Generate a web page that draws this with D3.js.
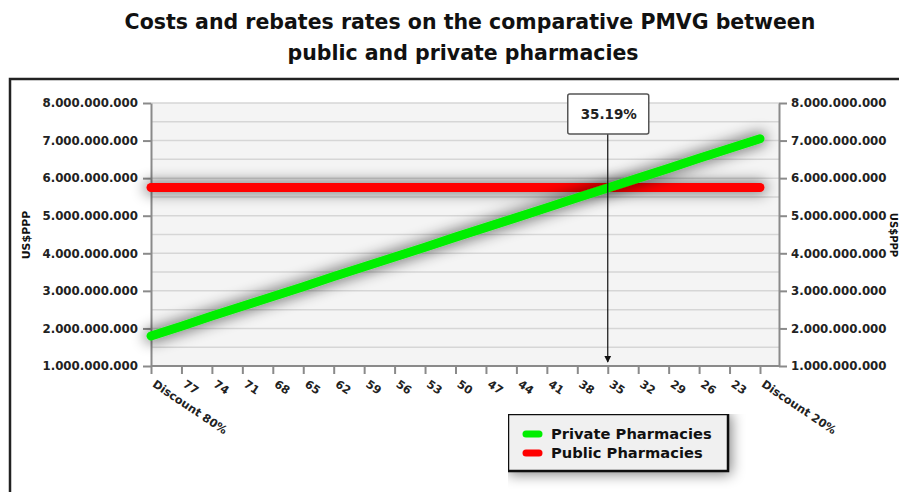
<!DOCTYPE html>
<meta charset="utf-8">
<style>
    body { margin: 0; background: #fff; }
    svg { display: block; font-family: "DejaVu Sans", sans-serif; }
    .grid line { stroke: #d6d6d6; stroke-width: 1.5px; }
    .axis path, .axis line { stroke: #8a8a8a; stroke-width: 2px; }
    .axis text { font-weight: bold; fill: #222; }
</style>
<svg width="899" height="492"></svg>
<script src="https://d3js.org/d3.v7.min.js"></script>
<script>
    // discount rates on the x axis (percent)
    var discounts = [80, 77, 74, 71, 68, 65, 62, 59, 56, 53, 50, 47, 44, 41, 38, 35, 32, 29, 26, 23, 20];
    var xLabels = ["Discount 80%", "77", "74", "71", "68", "65", "62", "59", "56", "53", "50",
        "47", "44", "41", "38", "35", "32", "29", "26", "23", "Discount 20%"];

    // US$PPP
    var privateCost = [1.80e9, 2.06e9, 2.33e9, 2.59e9, 2.85e9, 3.11e9, 3.38e9, 3.64e9, 3.90e9, 4.16e9, 4.43e9,
        4.69e9, 4.95e9, 5.21e9, 5.48e9, 5.74e9, 6.00e9, 6.26e9, 6.53e9, 6.79e9, 7.05e9];
    var publicCost = [5.75e9, 5.75e9, 5.75e9, 5.75e9, 5.75e9, 5.75e9, 5.75e9, 5.75e9, 5.75e9, 5.75e9, 5.75e9,
        5.75e9, 5.75e9, 5.75e9, 5.75e9, 5.75e9, 5.75e9, 5.75e9, 5.75e9, 5.75e9, 5.75e9];

    var yTicks = [1e9, 2e9, 3e9, 4e9, 5e9, 6e9, 7e9, 8e9];
    var gridValues = [1.5e9, 2e9, 2.5e9, 3e9, 3.5e9, 4e9, 4.5e9, 5e9, 5.5e9, 6e9, 6.5e9, 7e9, 7.5e9, 8e9];

    var breakEven = { discount: 35, label: "35.19%" };

    var series = [
        { name: "Private Pharmacies", values: privateCost, color: "#00ee00" },
        { name: "Public Pharmacies", values: publicCost, color: "#ff0000" }
    ];

    var svg = d3.select("svg");

    var plotLeft = 151, plotRight = 779, plotTop = 103, plotBottom = 366;

    var x = d3.scalePoint()
        .domain(discounts)
        .range([plotLeft, 760]);

    var y = d3.scaleLinear()
        .domain([1e9, 8e9])
        .range([plotBottom, plotTop]);

    var locale = d3.formatLocale({ decimal: ",", thousands: ".", grouping: [3], currency: ["$", ""] });
    var fmt = locale.format(",d");

    var defs = svg.append("defs");
    var shadow = defs.append("filter")
        .attr("id", "shadow")
        .attr("filterUnits", "userSpaceOnUse")
        .attr("x", 0).attr("y", 0)
        .attr("width", 899).attr("height", 492);
    shadow.append("feMorphology")
        .attr("in", "SourceAlpha").attr("operator", "dilate").attr("radius", 2).attr("result", "fat");
    shadow.append("feGaussianBlur")
        .attr("in", "fat").attr("stdDeviation", 7).attr("result", "blur");
    shadow.append("feComponentTransfer")
        .attr("in", "blur").attr("result", "soft")
        .append("feFuncA").attr("type", "linear").attr("slope", 0.5);
    var merge = shadow.append("feMerge");
    merge.append("feMergeNode").attr("in", "soft");
    merge.append("feMergeNode").attr("in", "SourceGraphic");

    var arrow = defs.append("marker")
        .attr("id", "arrow")
        .attr("viewBox", "0 0 10 10")
        .attr("refX", 9).attr("refY", 5)
        .attr("markerWidth", 7).attr("markerHeight", 8)
        .attr("markerUnits", "userSpaceOnUse")
        .attr("orient", "auto");
    arrow.append("path").attr("d", "M0,0L10,5L0,10z").attr("fill", "#111");

    // title
    svg.append("text")
        .attr("x", 470).attr("y", 29)
        .attr("text-anchor", "middle")
        .style("font-size", "20.5px").style("font-weight", "bold").style("fill", "#111")
        .text("Costs and rebates rates on the comparative PMVG between");
    svg.append("text")
        .attr("x", 463).attr("y", 60)
        .attr("text-anchor", "middle")
        .style("font-size", "20.5px").style("font-weight", "bold").style("fill", "#111")
        .text("public and private pharmacies");

    // outer frame
    svg.append("rect")
        .attr("x", 10).attr("y", 79)
        .attr("width", 950).attr("height", 500)
        .attr("fill", "#fff")
        .attr("stroke", "#222").attr("stroke-width", 2.5);

    // plot background and grid
    svg.append("rect")
        .attr("x", plotLeft).attr("y", plotTop)
        .attr("width", plotRight - plotLeft).attr("height", plotBottom - plotTop)
        .attr("fill", "#f4f4f4");

    svg.append("g")
        .attr("class", "grid")
        .selectAll("line")
        .data(gridValues)
        .enter().append("line")
        .attr("x1", plotLeft).attr("x2", plotRight)
        .attr("y1", d => y(d)).attr("y2", d => y(d));

    // axes
    svg.append("g")
        .attr("class", "axis")
        .attr("transform", "translate(" + plotLeft + ",0)")
        .call(d3.axisLeft(y).tickValues(yTicks).tickFormat(fmt).tickSizeInner(8).tickSizeOuter(0).tickPadding(5))
        .attr("font-family", null).attr("font-size", 11.8);

    svg.append("g")
        .attr("class", "axis")
        .attr("transform", "translate(" + plotRight + ",0)")
        .call(d3.axisRight(y).tickValues(yTicks).tickFormat(fmt).tickSizeInner(8).tickSizeOuter(0).tickPadding(4))
        .attr("font-family", null).attr("font-size", 11.8);

    var xAxis = svg.append("g")
        .attr("class", "axis")
        .attr("transform", "translate(0," + plotBottom + ")")
        .call(d3.axisBottom(x).tickSizeInner(8).tickSizeOuter(0).tickFormat((d, i) => xLabels[i]))
        .attr("font-family", null).attr("font-size", 11.3);
    xAxis.select(".domain").attr("d", "M" + plotLeft + ",0H" + plotRight);
    xAxis.selectAll("text")
        .attr("y", 0).attr("x", 0).attr("dy", "0.75em")
        .attr("text-anchor", "start")
        .attr("transform", "translate(5,13) rotate(34)");

    // axis titles
    svg.append("text")
        .attr("transform", "translate(30,235) rotate(-90)")
        .attr("text-anchor", "middle")
        .style("font-size", "11px").style("font-weight", "bold").style("fill", "#111")
        .text("US$PPP");
    svg.append("text")
        .attr("transform", "translate(890,235) rotate(90)")
        .attr("text-anchor", "middle")
        .style("font-size", "10px").style("font-weight", "bold").style("fill", "#111")
        .text("US$PPP");

    // lines
    var line = d3.line()
        .x((d, i) => x(discounts[i]))
        .y(d => y(d));

    svg.append("g")
        .selectAll("path")
        .data(series.slice().reverse())
        .enter().append("path")
        .attr("d", d => line(d.values))
        .attr("fill", "none")
        .attr("stroke", d => d.color)
        .attr("stroke-width", 9)
        .attr("stroke-linecap", "round")
        .attr("filter", "url(#shadow)");

    // break-even annotation
    var bx = x(breakEven.discount);
    svg.append("line")
        .attr("x1", bx).attr("x2", bx)
        .attr("y1", 134).attr("y2", 362)
        .attr("stroke", "#111").attr("stroke-width", 1.2)
        .attr("marker-end", "url(#arrow)");
    svg.append("rect")
        .attr("x", bx - 40).attr("y", 94)
        .attr("width", 81).attr("height", 40)
        .attr("rx", 2)
        .attr("fill", "#fff").attr("stroke", "#555").attr("stroke-width", 1.5);
    svg.append("text")
        .attr("x", bx + 1).attr("y", 119)
        .attr("text-anchor", "middle")
        .style("font-size", "13.5px").style("font-weight", "bold").style("fill", "#222")
        .text(breakEven.label);

    // legend
    var legend = svg.append("g").attr("transform", "translate(508,414)");
    legend.append("rect")
        .attr("width", 220).attr("height", 57)
        .attr("fill", "#f0f0f0")
        .attr("stroke", "#111").attr("stroke-width", 2.5)
        .attr("filter", "url(#shadow)");
    var item = legend.selectAll("g.item")
        .data(series)
        .enter().append("g")
        .attr("class", "item")
        .attr("transform", (d, i) => "translate(0," + (20 + i * 19) + ")");
    item.append("line")
        .attr("x1", 18).attr("x2", 31)
        .attr("stroke", d => d.color)
        .attr("stroke-width", 7)
        .attr("stroke-linecap", "round");
    item.append("text")
        .attr("x", 43).attr("dy", "0.35em")
        .style("font-size", "14.7px").style("font-weight", "bold").style("fill", "#111")
        .text(d => d.name);
</script>
